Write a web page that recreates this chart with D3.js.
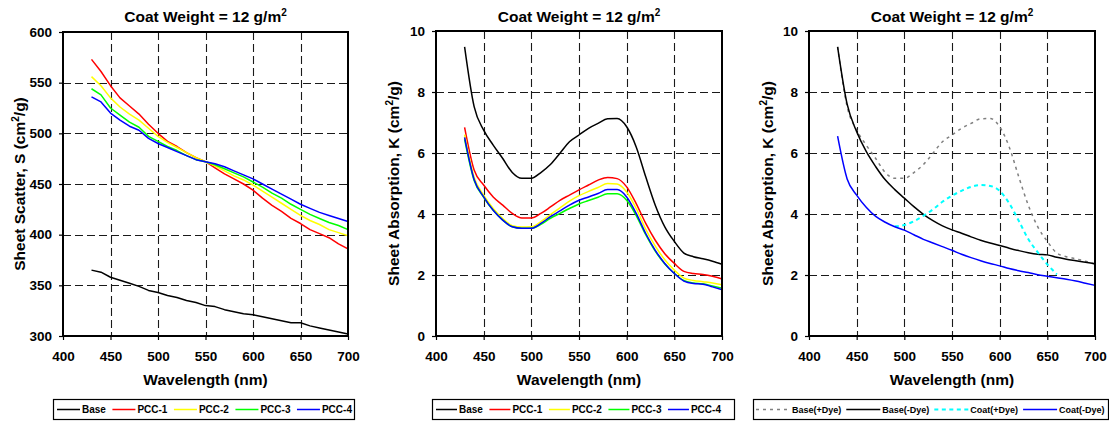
<!DOCTYPE html>
<html>
<head>
<meta charset="utf-8">
<script src="https://cdn.jsdelivr.net/npm/d3@7"></script>
<style>
  html, body { margin: 0; padding: 0; background: #fff; }
  svg { display: block; font-family: "Liberation Sans", Arial, sans-serif; font-weight: bold; }
</style>
</head>
<body>
<svg id="chart" width="1109" height="423"></svg>
<script>
// Wavelength grid (nm)
const wavelengths = [430,440,450,460,470,480,490,500,510,520,530,540,550,560,570,580,590,600,610,620,630,640,650,660,670,680,690,700];

// Sheet scatter S (cm^2/g)
const scatterBase = [365,363,358,355,352,349,345,343,340,338,335,333,330,329,326,324,322,321,319,317,315,313,313,310,308,306,304,302];
const scatterPcc1 = [573,561,547,535,527,519,509,500,492,487,481,476,472,466,460,455,450,444,436,429,423,416,411,405,401,397,391,386];
const scatterPcc2 = [556,547,535,526,519,513,505,497,491,486,481,476,472,468,463,458,454,449,443,437,431,425,419,414,410,405,402,399];
const scatterPcc3 = [544,538,525,518,511,506,497,492,487,483,478,474,472,469,465,461,457,452,447,441,436,430,425,420,416,412,409,405];
const scatterPcc4 = [536,531,520,513,507,503,495,490,486,482,478,474,472,470,467,463,459,455,450,445,440,435,430,426,422,419,416,413];

// Sheet absorption K (cm^2/g), dyed sheets
const absorbBase = [9.48,7.52,6.75,6.26,5.82,5.36,5.17,5.17,5.36,5.62,5.99,6.37,6.59,6.81,6.97,7.12,7.13,6.86,6.20,5.22,4.29,3.58,3.10,2.72,2.60,2.53,2.45,2.35];
const absorbPcc1 = [6.84,5.44,4.95,4.56,4.29,4.02,3.87,3.87,4.02,4.23,4.45,4.62,4.79,4.95,5.11,5.20,5.16,4.89,4.34,3.69,3.14,2.70,2.38,2.12,2.05,2.02,1.96,1.87];
const absorbPcc2 = [6.60,5.20,4.62,4.18,3.85,3.62,3.57,3.58,3.75,3.98,4.20,4.42,4.60,4.74,4.87,5.00,4.98,4.72,4.18,3.50,2.95,2.50,2.16,1.90,1.82,1.78,1.74,1.68];
const absorbPcc3 = [6.45,5.10,4.55,4.12,3.80,3.58,3.53,3.53,3.66,3.86,4.02,4.18,4.33,4.44,4.55,4.66,4.66,4.45,3.95,3.32,2.78,2.36,2.05,1.82,1.74,1.71,1.64,1.57];
const absorbPcc4 = [6.51,5.13,4.56,4.12,3.80,3.58,3.53,3.53,3.69,3.91,4.10,4.29,4.45,4.56,4.67,4.80,4.80,4.56,4.02,3.36,2.81,2.38,2.05,1.80,1.72,1.70,1.61,1.52];

// Sheet absorption K (cm^2/g), with and without dye
const baseWithDye = absorbBase;
const baseNoDye = [9.48,7.60,6.70,6.05,5.55,5.12,4.80,4.52,4.24,3.99,3.78,3.61,3.48,3.37,3.25,3.14,3.05,2.97,2.88,2.80,2.73,2.68,2.66,2.58,2.52,2.47,2.42,2.37];
const coatWithDye = [null,null,null,null,null,null,3.60,3.64,3.76,3.94,4.15,4.40,4.60,4.76,4.89,4.95,4.92,4.76,4.35,3.78,3.18,2.74,2.35,2.02,null,null,null,null];
const coatNoDye = [6.55,5.15,4.62,4.22,3.92,3.73,3.58,3.47,3.32,3.17,3.05,2.93,2.81,2.68,2.57,2.47,2.38,2.30,2.21,2.14,2.08,2.01,1.96,1.91,1.86,1.80,1.73,1.66];

// Axis ticks
const xTicks = [400,450,500,550,600,650,700];
const scatterTicks = [300,350,400,450,500,550,600];
const absorbTicks = [0,2,4,6,8,10];

const titleText = "Coat Weight = 12 g/m";

const svg = d3.select("#chart");

function drawPanel(cfg) {
  const g = svg.append("g");
  const x = d3.scaleLinear().domain([400, 700]).range([cfg.left, cfg.right]);
  const y = d3.scaleLinear().domain([cfg.yTicks[0], cfg.yTicks[cfg.yTicks.length - 1]]).range([cfg.bottom, cfg.top]);

  // dashed grid
  const grid = g.append("g").attr("stroke", "#1a1a1a").attr("stroke-width", 1.1).attr("stroke-dasharray", "8,4");
  grid.selectAll("line.v").data(xTicks.slice(1, -1)).join("line")
    .attr("x1", d => Math.round(x(d)) + 0.5).attr("x2", d => Math.round(x(d)) + 0.5)
    .attr("y1", cfg.top).attr("y2", cfg.bottom);
  grid.selectAll("line.h").data(cfg.yTicks.slice(1, -1)).join("line")
    .attr("y1", d => Math.round(y(d)) + 0.5).attr("y2", d => Math.round(y(d)) + 0.5)
    .attr("x1", cfg.left).attr("x2", cfg.right);

  // axes
  const yAxis = g.append("g").attr("transform", `translate(${cfg.left},0)`)
    .call(d3.axisLeft(y).tickValues(cfg.yTicks).tickSize(4).tickPadding(7));
  const xAxis = g.append("g").attr("transform", `translate(0,${cfg.bottom})`)
    .call(d3.axisBottom(x).tickValues(xTicks).tickSize(4).tickPadding(11));
  [xAxis, yAxis].forEach(a => {
    a.select(".domain").remove();
    a.selectAll("line").attr("stroke", "#000").attr("stroke-width", 1.2);
    a.selectAll("text").attr("font-size", 13.5).attr("font-family", "Liberation Sans, Arial, sans-serif")
      .attr("font-weight", "bold").attr("fill", "#000");
  });

  // data lines
  const line = d3.line()
    .defined(d => d[1] != null)
    .curve(cfg.curve || d3.curveLinear)
    .x(d => x(d[0])).y(d => y(d[1]));
  cfg.series.forEach(s => {
    g.append("path")
      .datum(wavelengths.map((w, i) => [w, s.values[i]]))
      .attr("fill", "none")
      .attr("stroke", s.color)
      .attr("stroke-width", s.width || 1.5)
      .attr("stroke-dasharray", s.dash || null)
      .attr("stroke-linejoin", "round")
      .attr("d", line);
  });

  // plot frame
  g.append("rect")
    .attr("x", cfg.left).attr("y", cfg.top)
    .attr("width", cfg.right - cfg.left).attr("height", cfg.bottom - cfg.top)
    .attr("fill", "none").attr("stroke", "#000").attr("stroke-width", 2);

  const cx = (cfg.left + cfg.right) / 2;

  // title
  const t = g.append("text").attr("x", cx).attr("y", 22).attr("text-anchor", "middle").attr("font-size", 15.5);
  t.append("tspan").text(titleText);
  t.append("tspan").attr("font-size", 10).attr("dy", -6).text("2");

  // x axis title
  g.append("text").attr("x", cx).attr("y", 385).attr("text-anchor", "middle")
    .attr("font-size", 15.5).text("Wavelength (nm)");

  // y axis title
  const cy = (cfg.top + cfg.bottom) / 2;
  const yl = g.append("text")
    .attr("transform", `translate(${cfg.yLabelX},${cy}) rotate(-90)`)
    .attr("text-anchor", "middle").attr("font-size", 15.5);
  yl.append("tspan").text(cfg.yLabel + " (cm");
  yl.append("tspan").attr("font-size", 10).attr("dy", -6).text("2");
  yl.append("tspan").attr("dy", 6).text("/g)");

  // legend
  const lg = g.append("g");
  lg.append("rect")
    .attr("x", cfg.legend.x + 0.5).attr("y", 399.5)
    .attr("width", cfg.legend.w).attr("height", 20)
    .attr("fill", "#fff").attr("stroke", "#000").attr("stroke-width", 1.2);
  let lx = cfg.legend.x + cfg.legend.pad;
  cfg.series.slice().sort((a, b) => a.order - b.order).forEach(s => {
    lg.append("line")
      .attr("x1", lx).attr("x2", lx + cfg.legend.sample)
      .attr("y1", 409.5).attr("y2", 409.5)
      .attr("stroke", s.color).attr("stroke-width", s.width || 1.5)
      .attr("stroke-dasharray", s.dash || null);
    const txt = lg.append("text")
      .attr("x", lx + cfg.legend.sample + 2).attr("y", 413)
      .attr("font-size", cfg.legend.font).text(s.name);
    lx = lx + cfg.legend.sample + 2 + txt.node().getComputedTextLength() + cfg.legend.gap;
  });
}

drawPanel({
  left: 63, right: 348, top: 32, bottom: 336,
  yTicks: scatterTicks, yLabel: "Sheet Scatter, S", yLabelX: 25,
  legend: { x: 53, w: 301, pad: 4, sample: 23, gap: 6.5, font: 10 },
  series: [
    { name: "Base",  values: scatterBase, color: "#000000", order: 0 },
    { name: "PCC-1", values: scatterPcc1, color: "#ff0000", order: 1 },
    { name: "PCC-2", values: scatterPcc2, color: "#ffff00", order: 2 },
    { name: "PCC-3", values: scatterPcc3, color: "#00ff00", order: 3 },
    { name: "PCC-4", values: scatterPcc4, color: "#0000ff", order: 4 }
  ]
});

drawPanel({
  left: 436, right: 722, top: 31, bottom: 336,
  yTicks: absorbTicks, yLabel: "Sheet Absorption, K", yLabelX: 399,
  curve: d3.curveMonotoneX,
  legend: { x: 432, w: 302, pad: 4, sample: 21, gap: 6.5, font: 10 },
  series: [
    { name: "Base",  values: absorbBase, color: "#000000", order: 0 },
    { name: "PCC-1", values: absorbPcc1, color: "#ff0000", order: 1 },
    { name: "PCC-2", values: absorbPcc2, color: "#ffff00", order: 2 },
    { name: "PCC-3", values: absorbPcc3, color: "#00ff00", order: 3 },
    { name: "PCC-4", values: absorbPcc4, color: "#0000ff", order: 4 }
  ]
});

drawPanel({
  left: 809, right: 1095, top: 31, bottom: 336,
  yTicks: absorbTicks, yLabel: "Sheet Absorption, K", yLabelX: 773,
  curve: d3.curveMonotoneX,
  legend: { x: 753, w: 355, pad: 3, sample: 34, gap: 5, font: 9 },
  series: [
    { name: "Base(+Dye)", values: baseWithDye, color: "#808080", dash: "3,4", width: 1.5, order: 0 },
    { name: "Base(-Dye)", values: baseNoDye, color: "#000000", order: 1 },
    { name: "Coat(+Dye)", values: coatWithDye, color: "#00ffff", dash: "4,3.5", width: 2, order: 2 },
    { name: "Coat(-Dye)", values: coatNoDye, color: "#0000ff", order: 3 }
  ]
});
</script>
</body>
</html>
